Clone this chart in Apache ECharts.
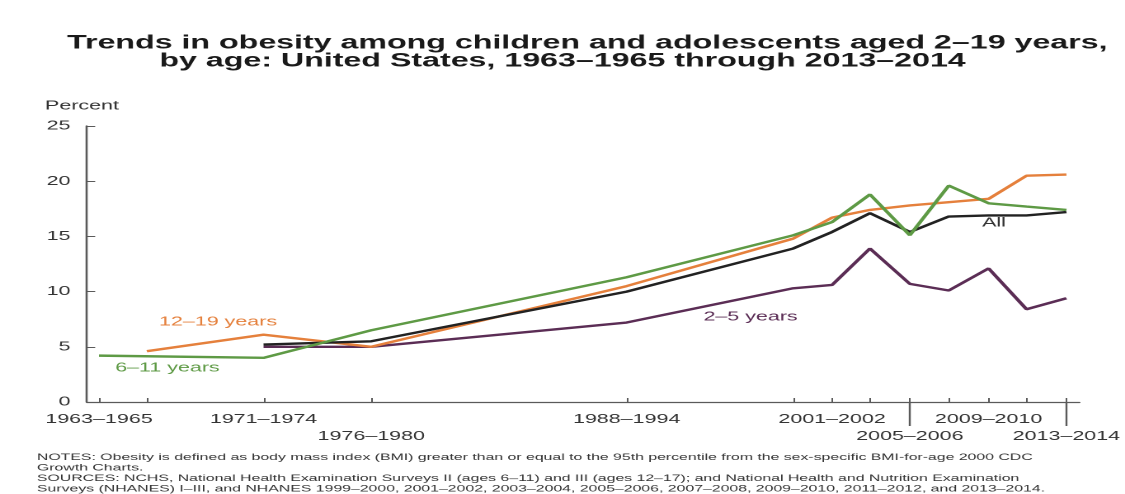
<!DOCTYPE html>
<html>
<head>
<meta charset="utf-8">
<script src="https://cdn.jsdelivr.net/npm/echarts@6/dist/echarts.min.js"></script>
<style>
  html, body { margin: 0; padding: 0; background: #fff; overflow: hidden; }
  #main { width: 682px; height: 494px; transform: scaleX(1.6496); transform-origin: 0 0; }
</style>
</head>
<body>
<div id="main"></div>
<script>
// Survey periods and their positions on the time scale
const periods = ['1963–1965','1966–1970','1971–1974','1976–1980','1988–1994','1999–2000','2001–2002','2003–2004','2005–2006','2007–2008','2009–2010','2011–2012','2013–2014'];
const periodPos = [1964.31, 1966.77, 1972.77, 1978.31, 1991.44, 2000, 2002, 2003.95, 2006, 2008, 2010.05, 2012, 2014.05];

// Percent obese, by age group (null = not surveyed)
const allAges  = [null, null, 5.2, 5.5, 10.0, 13.9, 15.4, 17.1, 15.4, 16.8, 16.9, 16.9, 17.2];
const age2to5  = [null, null, 5.0, 5.0, 7.2, 10.3, 10.6, 13.9, 10.7, 10.1, 12.1, 8.4, 9.4];
const age6to11 = [4.2, null, 4.0, 6.5, 11.3, 15.1, 16.3, 18.8, 15.1, 19.6, 18.0, 17.7, 17.4];
const age12to19 = [null, 4.6, 6.1, 5.0, 10.5, 14.8, 16.7, 17.4, 17.8, 18.1, 18.4, 20.5, 20.6];

// Axis labels
const upperRowPeriods = ['1963–1965','1971–1974','1988–1994','2001–2002','2009–2010'];
const lowerRowPeriods = ['1976–1980','2005–2006','2013–2014'];
const separatorPeriods = ['2005–2006','2013–2014'];
const yTicks = [0, 5, 10, 15, 20, 25];

const FONT = '"Liberation Sans", Arial, sans-serif';
const AXIS = '#5a5a5a';

function pairs(vals) {
  const out = [];
  vals.forEach((v, i) => { if (v !== null) out.push([periodPos[i], v]); });
  return out;
}
function posOf(name) { return periodPos[periods.indexOf(name)]; }
function nameAt(v) {
  let best = 0, d = Infinity;
  periodPos.forEach((p, i) => { if (Math.abs(p - v) < d) { d = Math.abs(p - v); best = i; } });
  return periods[best];
}

const xMin = 1963.69, xMax = 2014.72;

const chart = echarts.init(document.getElementById('main'), null, { renderer: 'canvas', devicePixelRatio: 2 });

const lineSeries = (name, vals, color) => ({
  name, type: 'line', data: pairs(vals), showSymbol: false, symbol: 'none',
  lineStyle: { color, width: 2.4 }, itemStyle: { color }, z: 3, animation: false
});

const labelAxis = (names, margin) => ({
  type: 'value', min: xMin, max: xMax, position: 'bottom',
  axisLine: { show: false }, axisTick: { show: false }, splitLine: { show: false },
  axisLabel: {
    show: true, customValues: names.map(posOf), hideOverlap: false,
    showMinLabel: true, showMaxLabel: true,
    margin, fontSize: 13, color: '#333', fontFamily: FONT,
    formatter: v => nameAt(v)
  }
});

chart.setOption({
  animation: false,
  backgroundColor: '#ffffff',
  textStyle: { fontFamily: FONT },
  grid: { left: 52.7, right: 26, top: 126, bottom: 92 },
  xAxis: [{
    type: 'value', min: xMin, max: xMax,
    axisLine: { show: true, lineStyle: { color: AXIS, width: 1.3 } },
    axisTick: { show: true, inside: true, length: 4, customValues: periodPos, lineStyle: { color: AXIS, width: 1 } },
    axisLabel: { show: false },
    splitLine: { show: false }
  }, {
    type: 'value', min: xMin, max: xMax, position: 'bottom',
    axisLine: { show: false },
    axisTick: { show: true, inside: false, length: 24, customValues: separatorPeriods.map(posOf), lineStyle: { color: AXIS, width: 1.2 } },
    axisLabel: { show: false },
    splitLine: { show: false }
  },
    labelAxis(upperRowPeriods, 11),
    labelAxis(lowerRowPeriods, 28)
  ],
  yAxis: {
    type: 'value', min: 0, max: 25, interval: 5,
    axisLine: { show: true, lineStyle: { color: AXIS, width: 1.3 } },
    axisTick: { show: true, inside: true, length: 5, customValues: yTicks, lineStyle: { color: AXIS, width: 1 } },
    axisLabel: { margin: 10, fontSize: 13, color: '#333', fontFamily: FONT },
    splitLine: { show: false }
  },
  series: [
    lineSeries('2–5 years', age2to5, '#5b2d55'),
    lineSeries('12–19 years', age12to19, '#e5803c'),
    lineSeries('All', allAges, '#222222'),
    lineSeries('6–11 years', age6to11, '#5e9a45')
  ],
  graphic: [
    { type: 'text', x: 356, y: 43, style: { text: 'Trends in obesity among children and adolescents aged 2–19 years,', font: 'bold 19.5px ' + FONT, fill: '#1a1a1a', align: 'center', verticalAlign: 'middle' } },
    { type: 'text', x: 341, y: 61, style: { text: 'by age: United States, 1963–1965 through 2013–2014', font: 'bold 19.5px ' + FONT, fill: '#1a1a1a', align: 'center', verticalAlign: 'middle' } },
    { type: 'text', x: 27.3, y: 106, style: { text: 'Percent', font: '13px ' + FONT, fill: '#333', align: 'left', verticalAlign: 'middle' } },
    { type: 'text', x: 132.2, y: 322, style: { text: '12–19 years', font: '13px ' + FONT, fill: '#e5803c', align: 'center', verticalAlign: 'middle' } },
    { type: 'text', x: 101.5, y: 368, style: { text: '6–11 years', font: '13px ' + FONT, fill: '#5e9a45', align: 'center', verticalAlign: 'middle' } },
    { type: 'text', x: 455, y: 317, style: { text: '2–5 years', font: '13px ' + FONT, fill: '#5b2d55', align: 'center', verticalAlign: 'middle' } },
    { type: 'text', x: 602.6, y: 223, style: { text: 'All', font: '13px ' + FONT, fill: '#333', align: 'center', verticalAlign: 'middle' } },
    { type: 'text', x: 22.4, y: 452, style: {
      text: 'NOTES: Obesity is defined as body mass index (BMI) greater than or equal to the 95th percentile from the sex-specific BMI-for-age 2000 CDC\nGrowth Charts.\nSOURCES: NCHS, National Health Examination Surveys II (ages 6–11) and III (ages 12–17); and National Health and Nutrition Examination\nSurveys (NHANES) I–III, and NHANES 1999–2000, 2001–2002, 2003–2004, 2005–2006, 2007–2008, 2009–2010, 2011–2012, and 2013–2014.',
      font: '9.6px ' + FONT, lineHeight: 10.5, fill: '#333', align: 'left', verticalAlign: 'top' } }
  ]
});
</script>
</body>
</html>
